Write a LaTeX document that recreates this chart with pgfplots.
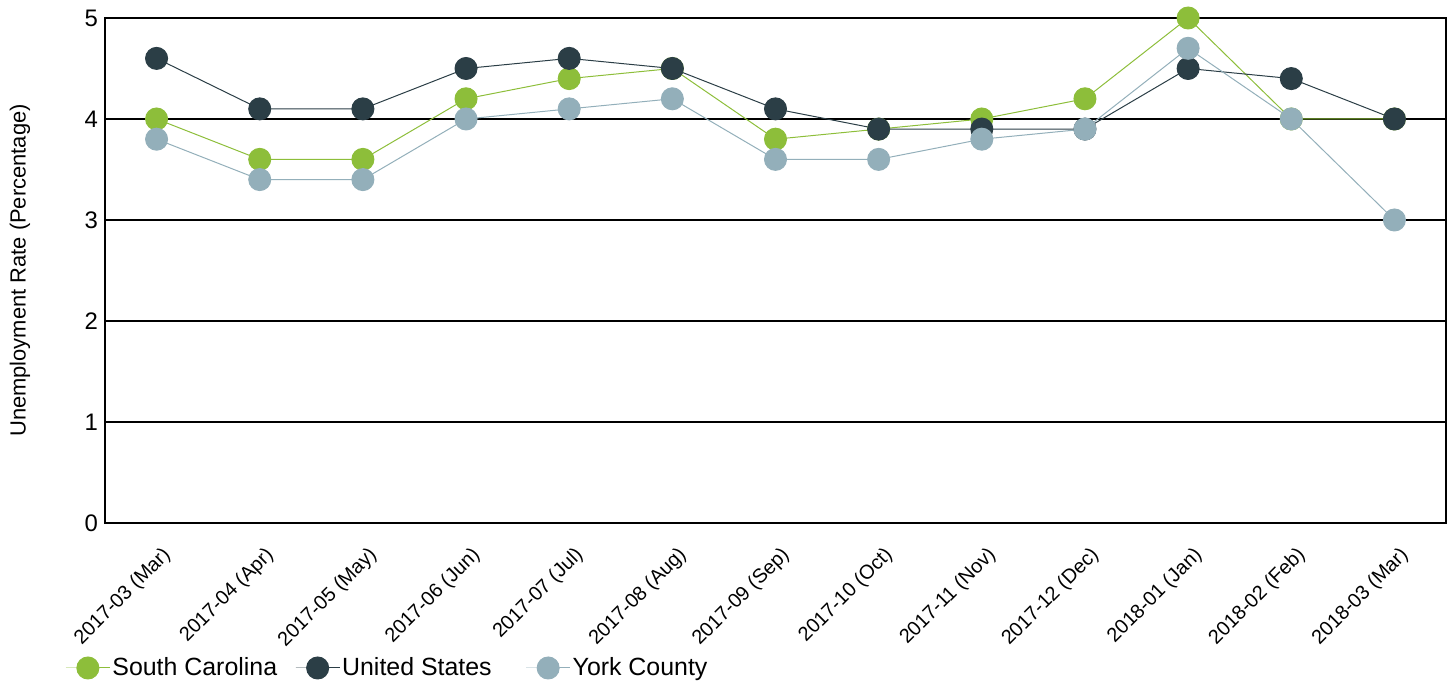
\documentclass[border=0pt]{standalone}
\usepackage{fontspec}
\setmainfont{Liberation Sans}
\usepackage{pgfplots}
\pgfplotsset{compat=1.18}
\definecolor{scgreen}{HTML}{8DBE3A}
\definecolor{usdark}{HTML}{2B3E46}
\definecolor{yorkblue}{HTML}{93AFBA}
\begin{document}
\begin{tikzpicture}
\begin{axis}[
    name=main,
    scale only axis,
    width=670.5bp, height=252.5bp,
    xmin=-0.5, xmax=12.5,
    ymin=0, ymax=5,
    xtick={0,...,12},
    xticklabels={2017-03 (Mar),2017-04 (Apr),2017-05 (May),2017-06 (Jun),2017-07 (Jul),2017-08 (Aug),2017-09 (Sep),2017-10 (Oct),2017-11 (Nov),2017-12 (Dec),2018-01 (Jan),2018-02 (Feb),2018-03 (Mar)},
    x tick label style={rotate=45, anchor=north east, font=\fontsize{10}{11}\selectfont, xshift=-3bp, yshift=-6bp},
    ytick={0,1,2,3,4,5},
    y tick label style={font=\fontsize{12}{13}\selectfont},
    /pgf/number format/assume math mode=true,
    major tick length=0pt,
    ymajorgrids,
    grid style={black, line width=0.7bp},
    axis line style={black, line width=0.8bp},
    ylabel={Unemployment Rate (Percentage)},
    ylabel style={font=\fontsize{11}{12}\selectfont, at={(rel axis cs:0,0.5)}, anchor=center, yshift=42.5bp},
    every axis plot/.append style={line width=0.5bp, mark=*, mark size=5.5bp},
    legend image code/.code={\draw[mark repeat=2, mark phase=2] plot coordinates {(0bp,0bp) (11bp,0bp) (22bp,0bp)};},
    legend style={draw=none, fill=none, at={(0,0)}, anchor=west, xshift=-20bp, yshift=-72.5bp,
        font=\fontsize{12.5}{13.5}\selectfont, column sep=0bp, inner sep=0pt, nodes={inner sep=1bp}},
    legend columns=3,
    legend cell align=left,
    clip=false,
]
\addplot[color=scgreen, mark options={fill=scgreen, draw=none}] coordinates {
    (0,4.0) (1,3.6) (2,3.6) (3,4.2) (4,4.4) (5,4.5) (6,3.8) (7,3.9) (8,4.0) (9,4.2) (10,5.0) (11,4.0) (12,4.0)};
\addlegendentry{South Carolina\rule{8bp}{0pt}}
\addplot[color=usdark, mark options={fill=usdark, draw=none}] coordinates {
    (0,4.6) (1,4.1) (2,4.1) (3,4.5) (4,4.6) (5,4.5) (6,4.1) (7,3.9) (8,3.9) (9,3.9) (10,4.5) (11,4.4) (12,4.0)};
\addlegendentry{United States\rule{16bp}{0pt}}
\addplot[color=yorkblue, mark options={fill=yorkblue, draw=none}] coordinates {
    (0,3.8) (1,3.4) (2,3.4) (3,4.0) (4,4.1) (5,4.2) (6,3.6) (7,3.6) (8,3.8) (9,3.9) (10,4.7) (11,4.0) (12,3.0)};
\addlegendentry{York County}
\end{axis}
\draw[line width=1.3bp] (main.north west) -- (main.south west) -- (main.south east);
\pgfresetboundingbox
\path[use as bounding box] ([xshift=-52.5bp, yshift=9bp]main.north west) rectangle ([xshift=3bp, yshift=-81.5bp]main.south east);
\end{tikzpicture}
\end{document}
